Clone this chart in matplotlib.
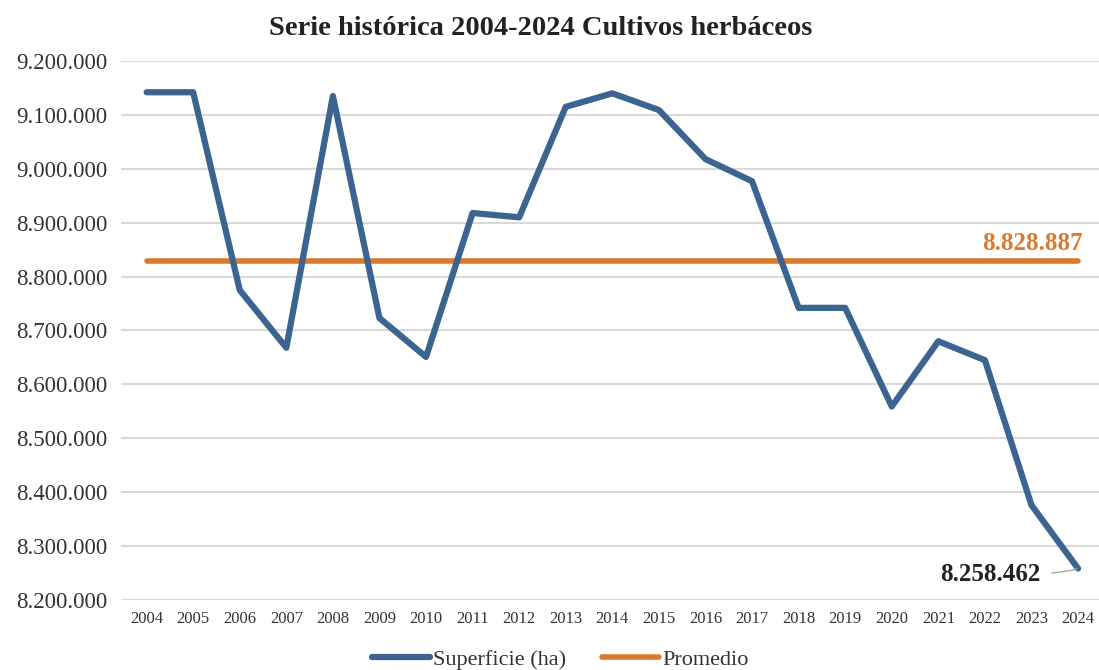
import matplotlib
matplotlib.use("Agg")
from matplotlib import pyplot as plt
from matplotlib.ticker import FuncFormatter

years = [str(y) for y in range(2004, 2025)]
superficie = [9142000, 9142000, 8775000, 8668000, 9135000, 8723000, 8651000,
              8918000, 8910000, 9115000, 9140000, 9109000, 9018000, 8977000,
              8742000, 8742000, 8559000, 8680000, 8645000, 8376000, 8258462]
promedio = 8828887

blue = "#3B6590"
orange = "#DB7A2C"

plt.rcParams['font.family'] = ['Liberation Serif', 'DejaVu Serif']

fig = plt.figure(figsize=(10.99, 6.70), dpi=100)
ax = fig.add_axes([121 / 1099, 70 / 670, 978 / 1099, 539 / 670])

x = list(range(len(years)))
ax.plot(x, superficie, color=blue, lw=4.5, solid_joinstyle='round',
        solid_capstyle='round', label='Superficie (ha)', zorder=3)
ax.plot(x, [promedio] * len(x), color=orange, lw=4, solid_capstyle='round',
        label='Promedio', zorder=2)

ax.set_ylim(8200000, 9200000)
ax.set_xlim(-0.55, 20.45)
ax.set_yticks(range(8200000, 9200001, 100000))
ax.yaxis.set_major_formatter(FuncFormatter(lambda v, p: f"{int(v):,}".replace(",", ".")))
ax.set_xticks(x)
ax.set_xticklabels(years)
ax.tick_params(axis='y', length=0, labelsize=16.5, colors='#333333', pad=10)
ax.tick_params(axis='x', length=0, labelsize=12, colors='#333333', pad=8)
ax.grid(axis='y', color='#D9D9D9', lw=1.5)
ax.set_axisbelow(True)
for s in ax.spines.values():
    s.set_visible(False)

ax.text(20.1, promedio + 12000, f"{promedio:,}".replace(",", "."), color=orange,
        fontsize=18, fontweight='bold', ha='right', va='bottom')

ax.annotate(f"{superficie[-1]:,}".replace(",", "."), xy=(x[-1], superficie[-1]),
            xytext=(19.2, superficie[-1] - 12000), ha='right', va='center',
            fontsize=18, fontweight='bold', color='#222222',
            arrowprops=dict(arrowstyle='-', color='#A6A6A6', lw=1,
                            connectionstyle='angle3,angleA=0,angleB=20',
                            shrinkA=6, shrinkB=1))

fig.text(0.492, 0.958, 'Serie histórica 2004-2024 Cultivos herbáceos', ha='center',
         va='center', fontsize=20.5, fontweight='bold', color='#222222')

fig.legend(loc='center', bbox_to_anchor=(0.51, 0.016), ncol=2, frameon=False,
           fontsize=16, handlelength=2.6, handletextpad=0.15, columnspacing=1.6,
           labelcolor='#333333')

fig.savefig("out.png", dpi=100)
